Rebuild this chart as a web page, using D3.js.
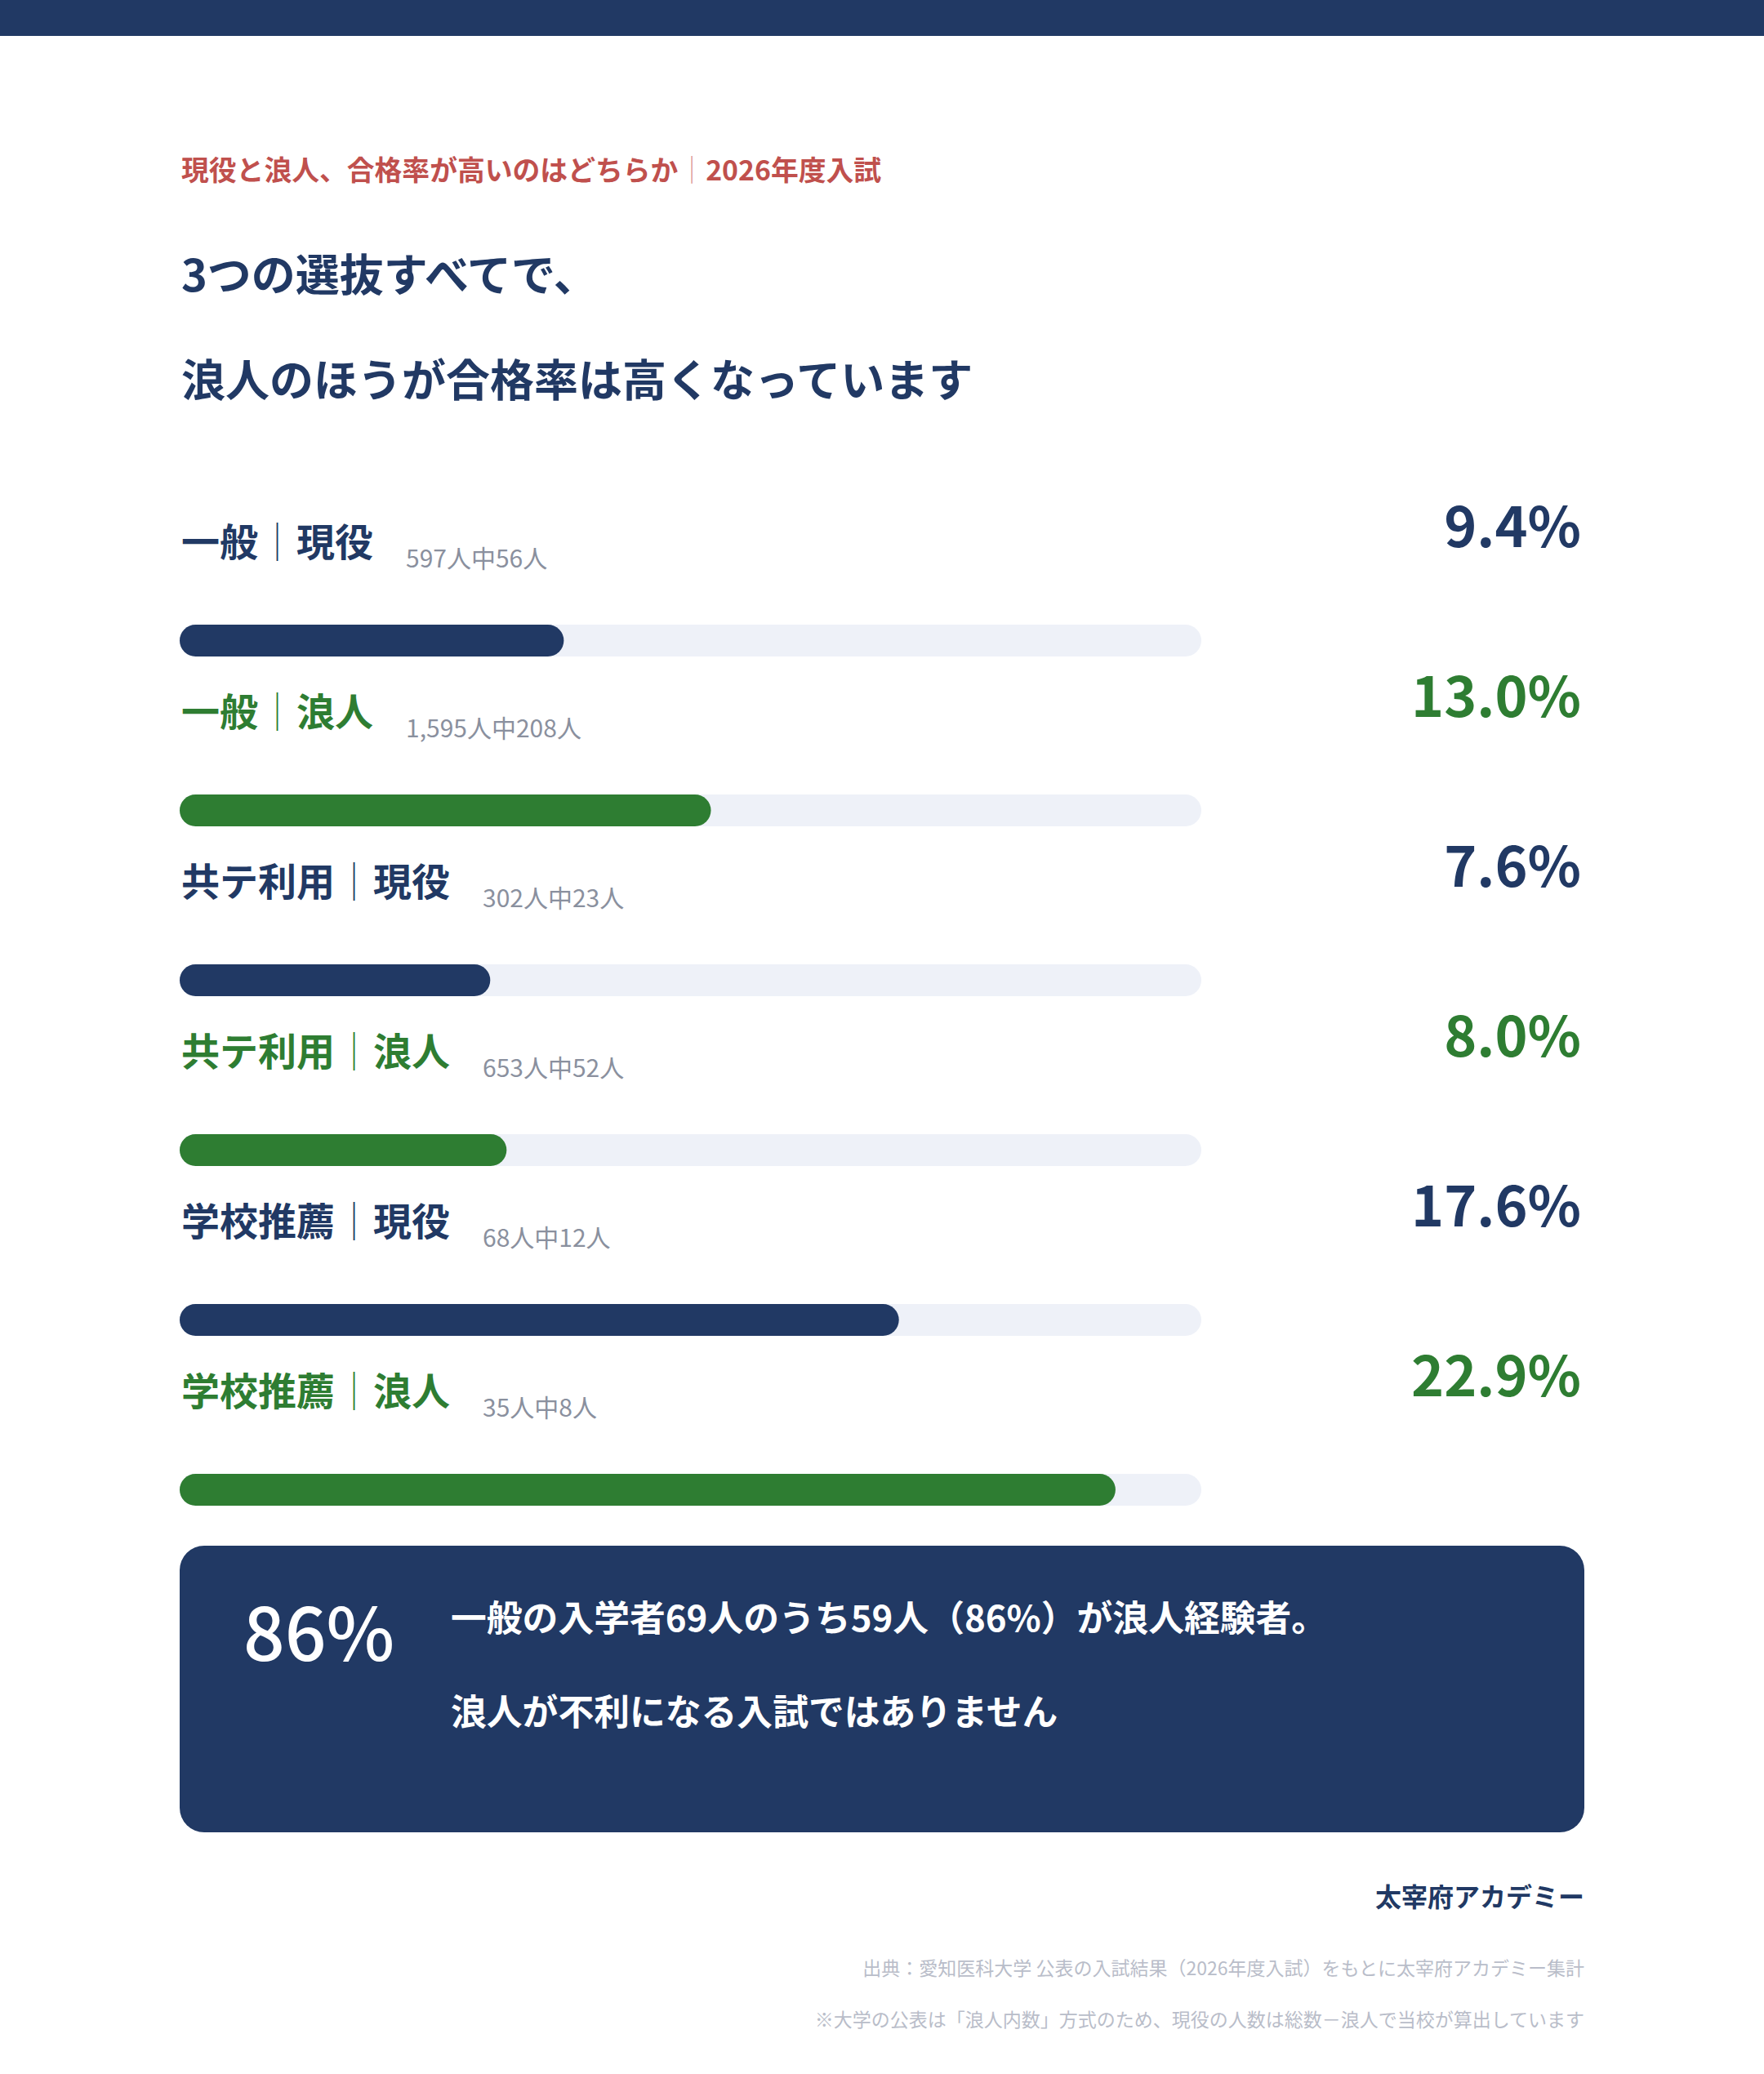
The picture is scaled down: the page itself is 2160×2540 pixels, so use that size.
<!DOCTYPE html>
<html lang="ja">
<head>
<meta charset="UTF-8" />
<title>現役と浪人、合格率が高いのはどちらか</title>
<script src="https://d3js.org/d3.v7.min.js"></script>
<style>
  html, body { margin: 0; padding: 0; background: #ffffff; }
  svg { display: block; font-family: "Noto Sans CJK JP", "Noto Sans", sans-serif; }
</style>
</head>
<body>
<script>
  // data
  const groups = ["一般", "一般", "共テ利用", "共テ利用", "学校推薦", "学校推薦"];
  const statuses = ["現役", "浪人", "現役", "浪人", "現役", "浪人"];
  const rates = [9.4, 13.0, 7.6, 8.0, 17.6, 22.9];
  const applicants = ["597", "1,595", "302", "653", "68", "35"];
  const passed = [56, 208, 23, 52, 12, 8];
  const rateMax = 25;

  const navy = "#213964";
  const green = "#2e7d32";
  const track = "#eef1f8";
  const gray = "#8a909e";

  const W = 2160, H = 2540;
  const rows = groups.map((g, i) => ({
    key: i, group: g, status: statuses[i], rate: rates[i],
    sub: applicants[i] + "人中" + passed[i] + "人"
  }));
  const colorOf = d => d.status === "現役" ? navy : green;

  const svg = d3.select("body").append("svg")
    .attr("width", W).attr("height", H);

  // header band
  svg.append("rect").attr("x", 0).attr("y", 0).attr("width", W).attr("height", 44).attr("fill", navy);

  // kicker
  const kicker = svg.append("text").attr("x", 222).attr("y", 221)
    .attr("font-size", 33.8).attr("font-weight", 700).attr("fill", "#c0504d");
  kicker.append("tspan").text("現役と浪人、合格率が高いのはどちらか");
  kicker.append("tspan").attr("font-weight", 300).attr("fill", "#d99290").text("｜");
  kicker.append("tspan").text("2026年度入試");

  // title
  const titleLines = ["3つの選抜すべてで、", "浪人のほうが合格率は高くなっています"];
  svg.selectAll(".title").data(titleLines).enter().append("text")
    .attr("class", "title")
    .attr("x", 222).attr("y", (d, i) => 357 + i * 129)
    .attr("font-size", 54).attr("font-weight", 700).attr("fill", navy)
    .text(d => d);

  // scales
  const x = d3.scaleLinear().domain([0, rateMax]).range([220, 1471]);
  const y = d3.scaleBand().domain(rows.map(d => d.key)).range([600, 600 + 6 * 208]);
  const barH = 39;

  const row = svg.selectAll(".row").data(rows).enter().append("g")
    .attr("class", "row")
    .attr("transform", d => `translate(0,${y(d.key)})`);

  const label = row.append("text")
    .attr("x", 222).attr("y", 81)
    .attr("font-size", 47).attr("font-weight", 700)
    .attr("fill", colorOf);
  label.append("tspan").text(d => d.group);
  label.append("tspan").attr("font-weight", 300).text("｜");
  label.append("tspan").text(d => d.status);

  row.append("text")
    .attr("class", "sub")
    .attr("y", 95)
    .attr("font-size", 30).attr("font-weight", 400).attr("fill", gray)
    .text(d => d.sub);
  row.each(function () {
    const g = d3.select(this);
    const w = g.select("text").node().getComputedTextLength();
    g.select(".sub").attr("x", 222 + w + 40);
  });

  row.append("text")
    .attr("x", 1936).attr("y", 70)
    .attr("text-anchor", "end")
    .attr("font-size", 68).attr("font-weight", 700)
    .attr("fill", colorOf)
    .text(d => d.rate.toFixed(1) + "%");

  row.append("rect")
    .attr("x", x(0)).attr("y", 165)
    .attr("width", x(rateMax) - x(0)).attr("height", barH)
    .attr("rx", barH / 2).attr("fill", track);

  row.append("rect")
    .attr("x", x(0)).attr("y", 165)
    .attr("width", d => x(d.rate) - x(0)).attr("height", barH)
    .attr("rx", barH / 2).attr("fill", colorOf);

  // summary box
  svg.append("rect").attr("x", 220).attr("y", 1893).attr("width", 1720).attr("height", 351)
    .attr("rx", 30).attr("fill", navy);
  svg.append("text").attr("x", 298).attr("y", 2034)
    .attr("font-size", 89).attr("font-weight", 500).attr("fill", "#ffffff")
    .text("86%");
  const boxLines = ["一般の入学者69人のうち59人（86%）が浪人経験者。", "浪人が不利になる入試ではありません"];
  svg.selectAll(".boxline").data(boxLines).enter().append("text")
    .attr("class", "boxline")
    .attr("x", 552).attr("y", (d, i) => 1998 + i * 115)
    .attr("font-size", 43.8).attr("font-weight", 700).attr("fill", "#ffffff")
    .text(d => d);

  // footer
  svg.append("text").attr("x", 1940).attr("y", 2335).attr("text-anchor", "end")
    .attr("font-size", 32).attr("font-weight", 700).attr("fill", navy)
    .text("太宰府アカデミー");
  const notes = [
    "出典：愛知医科大学 公表の入試結果（2026年度入試）をもとに太宰府アカデミー集計",
    "※大学の公表は「浪人内数」方式のため、現役の人数は総数－浪人で当校が算出しています"
  ];
  svg.selectAll(".note").data(notes).enter().append("text")
    .attr("class", "note")
    .attr("x", 1940).attr("y", (d, i) => 2419 + i * 63)
    .attr("text-anchor", "end")
    .attr("font-size", 23).attr("fill", "#b9bdc9")
    .text(d => d);
</script>
</body>
</html>
